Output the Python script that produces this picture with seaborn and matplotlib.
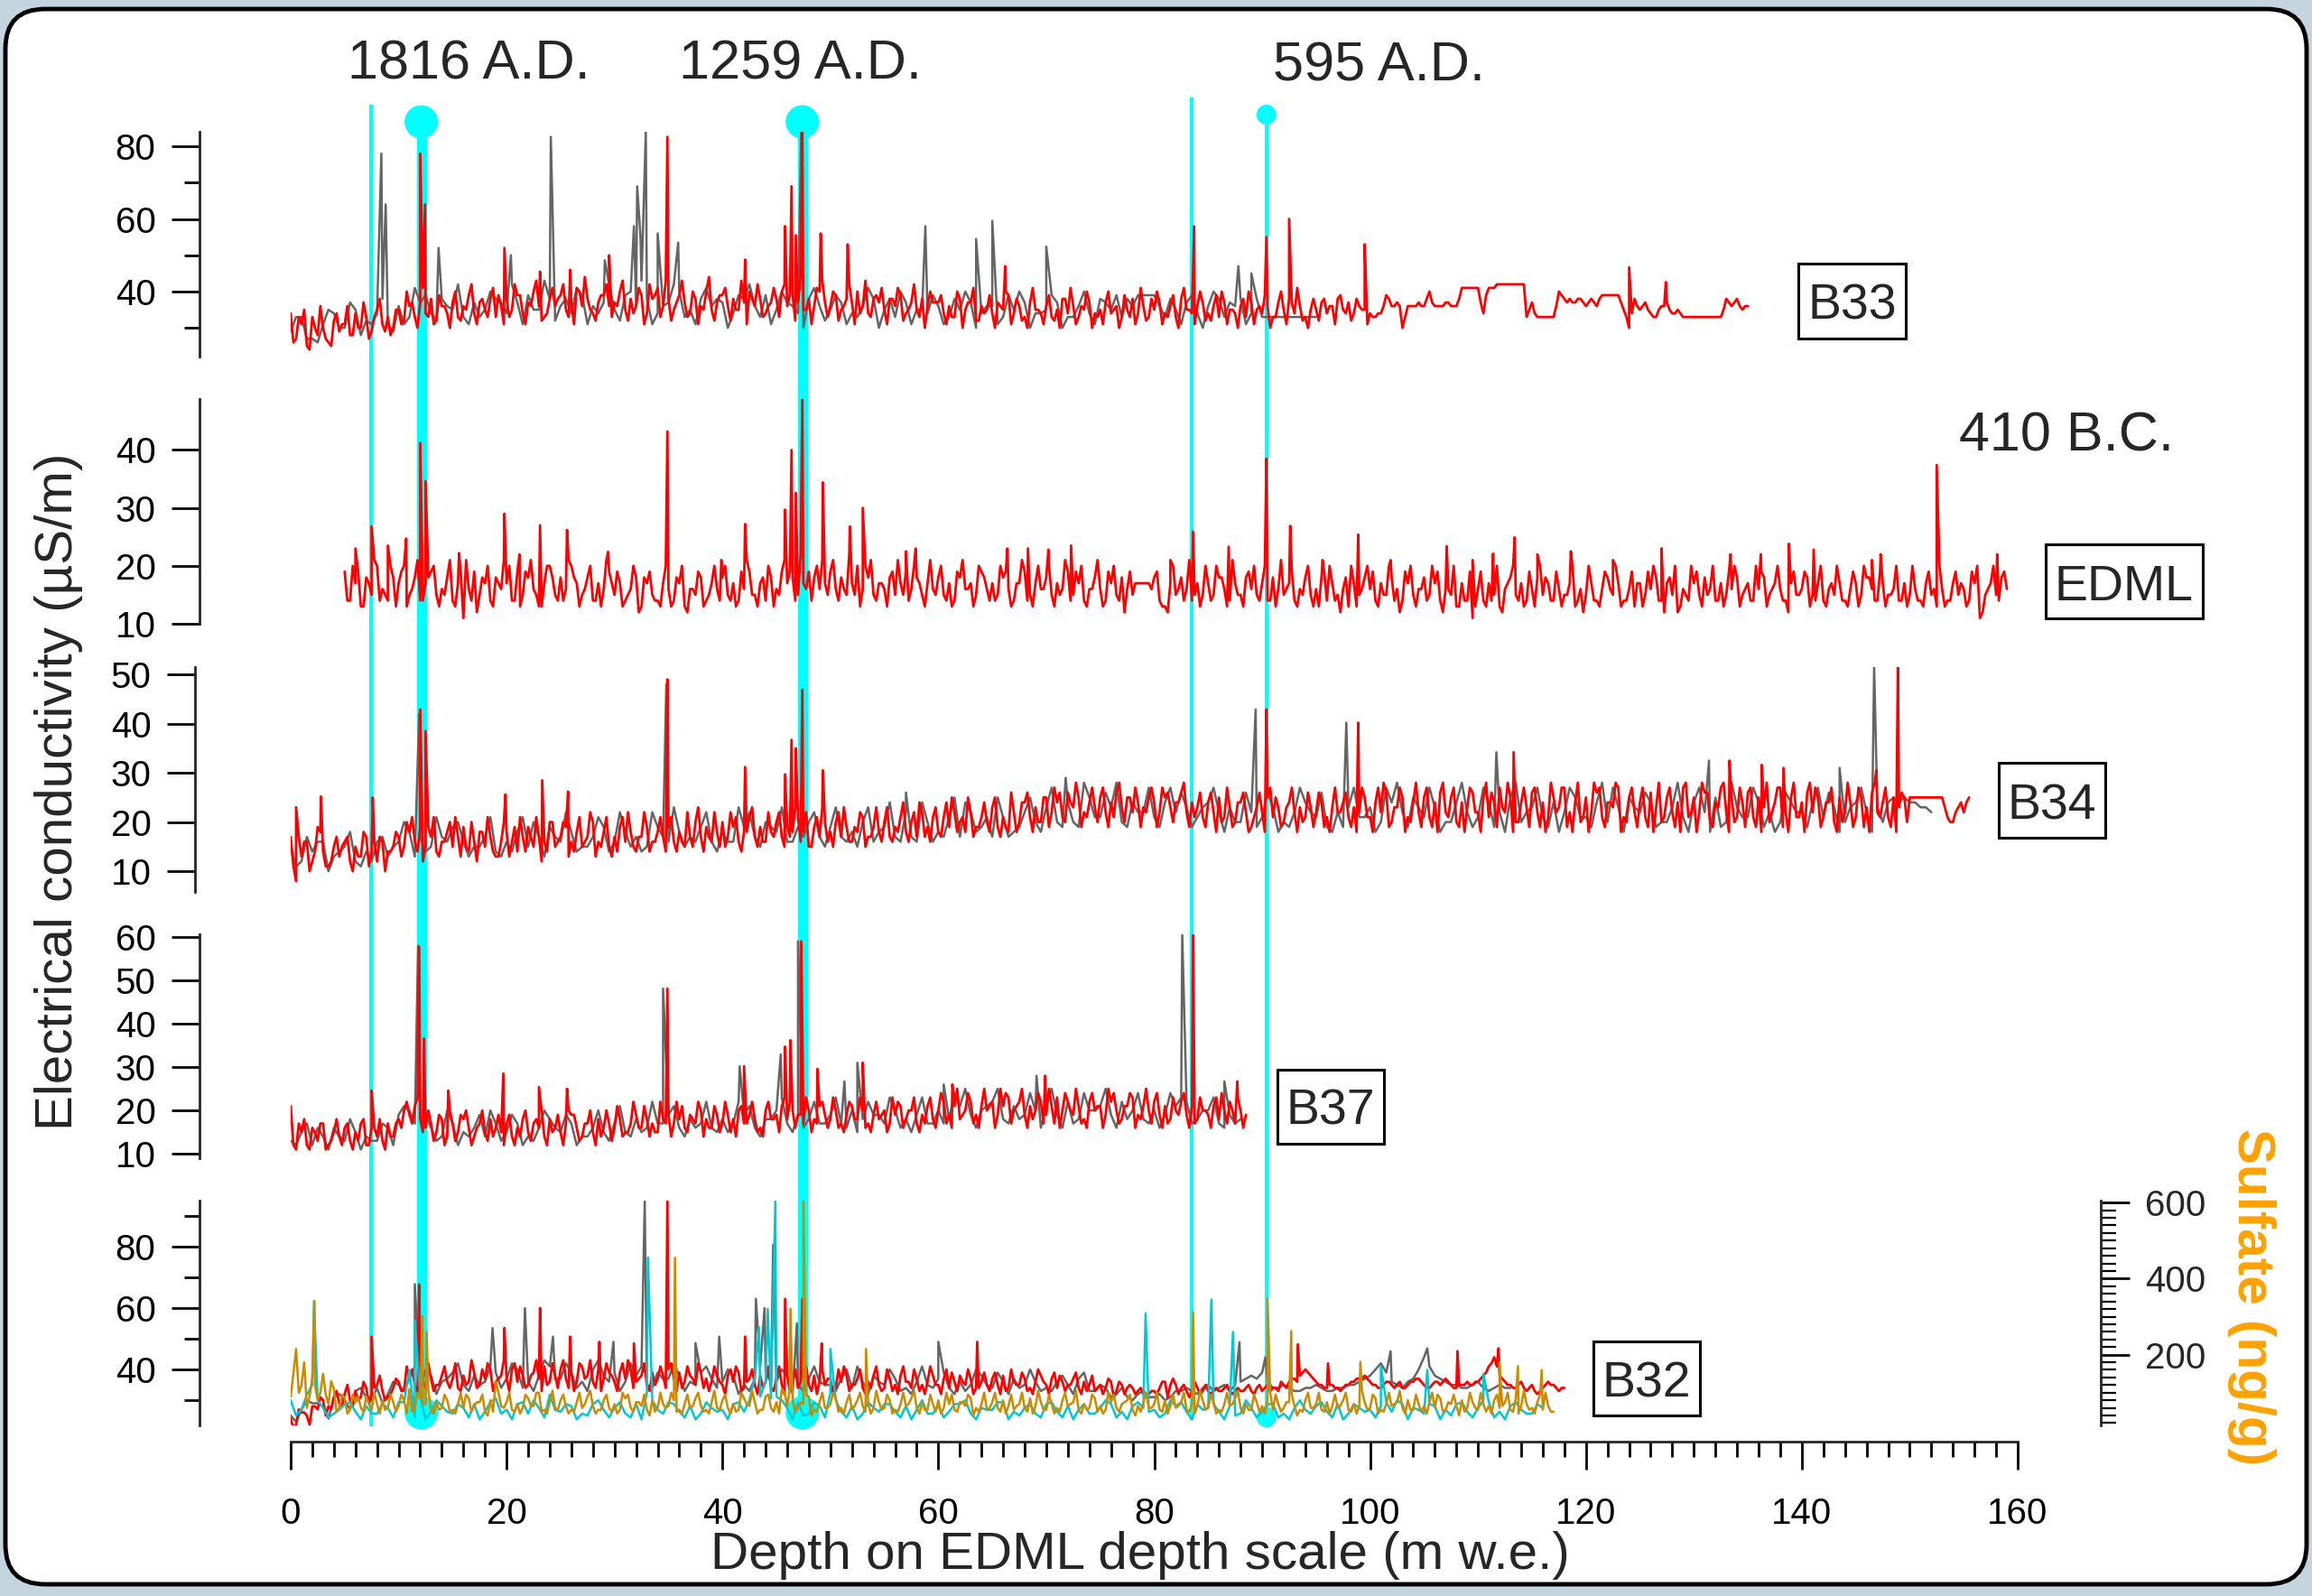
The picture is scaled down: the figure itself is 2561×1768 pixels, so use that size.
import numpy as np
import pandas as pd
import matplotlib
matplotlib.use("Agg")
import matplotlib.pyplot as plt
import seaborn as sns
from matplotlib.patches import FancyBboxPatch, Rectangle
from matplotlib.ticker import MultipleLocator, NullLocator

# ---------------------------------------------------------------- data
# Electrical conductivity (uS/m). Each record: samples on a regular depth grid
# (START, STEP), a second interleaved set of samples half a step later (*_MID),
# and the isolated volcanic peaks (*_SPIKES as (depth, value)).
B33_RED_START, B33_RED_STEP = 0.0, 0.5
B33_RED = [
    34, 27, 31, 25, 33, 28, 30, 26, 32, 29,
    31, 28, 34, 30, 33, 29, 35, 31, 33, 30,
    35, 32, 36, 33, 37, 34, 38, 32, 36, 34,
    37, 33, 36, 39, 34, 37, 35, 38, 33, 36,
    38, 35, 39, 34, 37, 40, 36, 33, 38, 36,
    39, 35, 37, 41, 36, 38, 34, 37, 39, 36,
    37, 40, 35, 38, 36, 39, 34, 38, 41, 36,
    38, 35, 39, 37, 34, 38, 36, 40, 35, 37,
    39, 36, 38, 35, 37, 40, 36, 38, 34, 37,
    38, 40, 36, 39, 37, 35, 38, 36, 40, 37,
    36, 39, 35, 38, 37, 40, 36, 34, 38, 37,
    35, 38, 36, 39, 34, 37, 35, 38, 36, 37,
    37, 34, 36, 33, 38, 35, 37, 32, 36, 35,
    34, 37, 35, 39, 34, 36, 33, 37, 35, 34,
    36, 33, 35, 38, 34, 36, 33, 35, 37, 34,
    35, 37, 34, 36, 33, 35, 38, 34, 36, 33,
    35, 37, 34, 36, 33, 38, 35, 34, 36, 37,
    34, 36, 33, 37, 35, 34, 36, 33, 37, 35,
    34, 36, 33, 37, 35, 38, 34, 36, 33, 35,
    35, 37, 34, 36, 38, 35, 37, 34, 36, 35,
    34, 33, 34, 39, 36, 37, 30, 36, 36, 37,
    36, 40, 36, 36, 37, 36, 36, 41, 41, 41,
    41, 34, 41, 41, 42, 42, 42, 42, 42, 33,
    37, 33, 33, 33, 33, 40, 38, 38, 37, 38,
    36, 38, 36, 39, 39, 39, 39, 35, 30, 38,
    35, 37, 34, 33, 36, 37, 34, 35, 33, 33,
    33, 33, 33, 33, 33, 33, 38, 36, 38, 35,
    36,
]
B33_RED_MID = [
    26, 33, 35, 24, 30, 36, 27, 25, 34, 31,
    36, 28, 30, 37, 27, 33, 38, 29, 28, 35,
    31, 40, 37, 30, 41, 33, 31, 39, 36, 30,
    40, 32, 35, 42, 31, 38, 33, 41, 39, 31,
    33, 42, 39, 31, 36, 43, 32, 34, 41, 38,
    42, 33, 31, 40, 44, 35, 32, 39, 42, 33,
    36, 43, 32, 34, 41, 31, 42, 39, 33, 43,
    32, 37, 43, 33, 40, 31, 35, 44, 32, 39,
    41, 32, 35, 43, 31, 38, 42, 33, 36, 41,
    33, 42, 39, 32, 44, 35, 31, 41, 43, 33,
    40, 32, 36, 42, 31, 34, 43, 33, 39, 41,
    31, 38, 41, 32, 35, 42, 33, 30, 40, 37,
    39, 31, 33, 40, 30, 37, 41, 32, 34, 39,
    30, 36, 40, 31, 38, 32, 30, 41, 35, 31,
    39, 32, 30, 38, 41, 31, 36, 40, 30, 33,
    31, 40, 35, 30, 39, 33, 31, 41, 32, 38,
    40, 31, 33, 39, 30, 41, 35, 31, 40, 32,
    32, 39, 40, 31, 35, 30, 38, 40, 31, 36,
    39, 30, 33, 40, 31, 37, 41, 32, 30, 38,
    32, 38, 36, 31, 39, 34, 32, 38, 35, 31,
    33, 34, 36, 38, 36, 36, 33, 36, 36, 36,
    38, 37, 36, 36, 37, 36, 38, 41, 41, 41,
    37, 39, 41, 42, 42, 42, 42, 42, 42, 35,
    34, 33, 33, 33, 36, 39, 37, 37, 38, 37,
    37, 37, 38, 39, 39, 39, 37, 33, 34, 36,
    36, 35, 33, 35, 36, 35, 34, 34, 33, 33,
    33, 33, 33, 33, 33, 35, 37, 37, 36, 36,
]
B33_RED_SPIKES = [(12.0, 78), (12.45, 64), (19.8, 52), (23.1, 45.5), (25.9, 46),
                  (29.5, 50), (34.9, 82.6), (42.1, 48.8), (45.8, 58), (46.4, 69),
                  (46.8, 55.5), (47.4, 84), (49.1, 56), (51.6, 53), (66.2, 47),
                  (83.7, 58), (90.4, 55), (92.5, 60), (99.5, 53), (124.0, 46.7),
                  (127.4, 42.6)]

B33_GRAY_START, B33_GRAY_STEP = 0.0, 1.0
B33_GRAY = [
    29, 33, 27, 31, 34, 30, 35, 32, 34, 31,
    36, 33, 37, 34, 38, 35, 33, 37, 35, 38,
    34, 37, 39, 35, 38, 36, 34, 39, 36, 37,
    35, 39, 36, 38, 34, 37, 40, 35, 38, 36,
    37, 34, 38, 36, 39, 35, 37, 34, 38, 36,
    35, 37, 34, 36, 38, 35, 33, 37, 35, 34,
    36, 33, 35, 37, 34, 36, 33, 35, 37, 34,
    35, 37, 33, 36, 34, 38, 35, 33, 36, 39,
    39, 33, 35, 37, 34, 36, 38, 37, 38, 34,
    33, 33, 33, 33, 33, 33,
]
B33_GRAY_MID = [
    33, 27, 26, 35, 30, 37, 28, 31, 38, 29,
    31, 41, 39, 32, 36, 42, 31, 33, 40, 37,
    42, 31, 35, 43, 32, 38, 41, 31, 34, 42,
    32, 40, 43, 31, 36, 42, 33, 31, 41, 38,
    30, 39, 42, 33, 31, 40, 36, 30, 41, 32,
    39, 31, 33, 41, 30, 38, 40, 31, 35, 39,
    31, 38, 40, 30, 36, 31, 39, 40, 30, 34,
    39, 30, 33, 40, 31, 37, 39, 38, 39, 39,
    36, 38, 31, 39, 30, 40, 33, 36, 31, 38,
    33, 33, 33, 33, 33,
]
B33_GRAY_SPIKES = [(8.4, 78), (8.8, 64), (13.7, 52), (20.4, 50), (24.1, 82.6),
                   (29.1, 48.6), (31.8, 58), (32.1, 69), (32.4, 55.5), (32.9, 84),
                   (34.0, 56), (35.9, 53.5), (47.3, 84), (58.8, 58), (63.5, 54.5),
                   (65.0, 59.5), (70.0, 52.4), (87.8, 47), (89.0, 45)]

EDML_RED_START, EDML_RED_STEP = 5.0, 0.5
EDML_RED = [
    19, 14, 17, 13, 18, 15, 20, 16, 14, 18,
    17, 20, 15, 18, 14, 17, 19, 15, 16, 18,
    14, 17, 11, 16, 19, 15, 17, 14, 18, 16,
    17, 14, 19, 15, 18, 16, 13, 17, 20, 15,
    18, 16, 20, 17, 15, 18, 14, 17, 16, 19,
    15, 17, 14, 16, 18, 13, 17, 15, 14, 17,
    16, 14, 17, 13, 16, 15, 18, 14, 17, 16,
    18, 15, 17, 14, 16, 19, 15, 17, 14, 18,
    16, 19, 17, 18, 15, 17, 19, 18, 16, 17,
    19, 16, 18, 15, 17, 20, 16, 18, 15, 17,
    16, 18, 15, 17, 19, 16, 18, 15, 17, 16,
    18, 15, 17, 14, 18, 16, 17, 15, 19, 16,
    17, 15, 18, 16, 14, 17, 19, 15, 17, 16,
    18, 15, 17, 16, 19, 15, 17, 14, 16, 18,
    16, 14, 17, 15, 18, 16, 15, 17, 17, 17,
    18, 14, 13, 17, 15, 18, 16, 14, 17, 15,
    17, 15, 18, 16, 14, 17, 15, 18, 16, 15,
    17, 14, 18, 16, 15, 17, 14, 16, 18, 15,
    16, 18, 14, 17, 15, 16, 13, 17, 15, 18,
    16, 14, 17, 15, 18, 16, 14, 17, 15, 16,
    18, 15, 17, 14, 16, 15, 13, 17, 14, 11,
    16, 14, 17, 15, 13, 16, 18, 15, 17, 14,
    16, 18, 15, 17, 14, 16, 15, 17, 13, 16,
    15, 17, 14, 16, 18, 15, 17, 14, 16, 13,
    17, 15, 16, 18, 14, 17, 15, 12, 16, 14,
    17, 15, 18, 16, 14, 17, 15, 16, 18, 15,
    17, 14, 16, 18, 15, 17, 16, 14, 17, 15,
    16, 18, 15, 17, 14, 16, 15, 17, 14, 16,
    17, 15, 18, 16, 14, 17, 15, 16, 14, 17,
    15, 16, 14, 17, 15, 13, 16, 14, 17, 15,
    16, 14, 17, 11, 15, 17, 15, 18, 16,
]
EDML_RED_MID = [
    14, 20, 19, 13, 17, 21, 14, 15, 20, 13,
    19, 13, 16, 21, 14, 18, 20, 13, 15, 21,
    13, 19, 21, 14, 12, 18, 20, 13, 17, 21,
    20, 14, 13, 19, 21, 15, 13, 20, 18, 14,
    14, 21, 18, 13, 16, 20, 14, 13, 21, 17,
    19, 13, 15, 20, 12, 18, 19, 14, 13, 20,
    13, 18, 20, 12, 16, 19, 13, 15, 20, 14,
    20, 14, 13, 19, 21, 15, 13, 18, 20, 13,
    15, 21, 19, 14, 22, 16, 14, 20, 21, 15,
    21, 14, 16, 22, 15, 13, 20, 21, 14, 17,
    13, 19, 21, 15, 14, 20, 17, 13, 21, 15,
    20, 14, 13, 19, 21, 16, 13, 20, 18, 14,
    14, 20, 19, 13, 17, 21, 14, 13, 20, 16,
    20, 13, 15, 21, 14, 19, 20, 13, 16, 21,
    13, 19, 20, 14, 12, 19, 17, 17, 17, 16,
    19, 13, 12, 20, 16, 14, 21, 15, 13, 20,
    14, 20, 18, 13, 21, 15, 13, 19, 20, 14,
    20, 14, 13, 21, 16, 19, 13, 15, 20, 13,
    13, 19, 20, 14, 12, 18, 20, 13, 16, 20,
    19, 13, 15, 20, 14, 12, 19, 20, 13, 16,
    14, 20, 19, 12, 16, 20, 13, 14, 19, 13,
    19, 13, 14, 20, 12, 17, 20, 14, 13, 19,
    13, 20, 18, 14, 19, 13, 15, 20, 14, 12,
    20, 14, 13, 19, 16, 20, 13, 14, 19, 17,
    13, 19, 20, 14, 12, 18, 20, 13, 15, 20,
    19, 13, 15, 20, 14, 13, 19, 20, 13, 16,
    14, 20, 19, 13, 16, 20, 14, 12, 19, 15,
    19, 13, 14, 20, 13, 17, 20, 14, 13, 19,
    13, 20, 18, 14, 19, 13, 15, 20, 14, 13,
    20, 14, 13, 19, 16, 20, 13, 14, 19, 17,
    13, 19, 20, 12, 16, 20, 14, 19,
]
EDML_RED_SPIKES = [(6.0, 23), (7.5, 26.8), (9.0, 23.5), (10.7, 24.7), (12.0, 41.2),
                   (12.5, 34.6), (15.6, 22.2), (19.8, 29), (21.2, 22), (23.1, 27),
                   (25.6, 26.2), (29.4, 22.4), (34.9, 43.2), (39.9, 21), (42.1, 27.2),
                   (45.8, 29.7), (46.4, 40), (46.8, 32.6), (47.4, 48.8), (49.3, 34.4),
                   (51.8, 26.8), (53.0, 30), (57.0, 22.5), (57.9, 23), (66.4, 23),
                   (68.3, 23), (70.2, 22.8), (72.3, 23.5), (81.5, 21), (83.6, 25.9),
                   (86.9, 23.3), (90.4, 38.5), (92.6, 26.9), (95.6, 21), (98.9, 25.4),
                   (101.9, 21), (107.1, 23.4), (109.5, 21), (111.4, 22.1), (113.4, 24.9),
                   (115.5, 22), (118.6, 22.5), (122.5, 21), (127.0, 23), (133.4, 22),
                   (136.2, 22), (138.8, 23.8), (141.1, 22.8), (146.5, 21), (147.3, 22),
                   (152.5, 37.4), (158.1, 22)]

B34_RED_START, B34_RED_STEP = 0.0, 0.5
B34_RED = [
    17, 8, 13, 16, 12, 19, 14, 11, 15, 13,
    16, 12, 15, 13, 17, 14, 12, 16, 14, 15,
    17, 15, 18, 16, 19, 15, 17, 14, 16, 18,
    15, 17, 19, 14, 16, 18, 15, 17, 13, 16,
    18, 16, 14, 17, 19, 15, 17, 16, 20, 15,
    17, 19, 16, 18, 15, 17, 20, 16, 18, 15,
    17, 19, 16, 18, 14, 17, 19, 16, 18, 17,
    19, 16, 18, 15, 17, 20, 17, 19, 16, 18,
    20, 17, 19, 16, 18, 21, 17, 19, 16, 18,
    20, 17, 19, 18, 21, 18, 15, 19, 17, 20,
    18, 20, 17, 19, 16, 18, 21, 17, 19, 18,
    20, 17, 19, 21, 18, 20, 17, 22, 19, 21,
    18, 21, 19, 22, 20, 18, 22, 19, 21, 20,
    23, 19, 21, 18, 22, 20, 24, 21, 23, 20,
    25, 22, 24, 21, 26, 23, 25, 22, 24, 23,
    25, 22, 24, 26, 23, 25, 22, 24, 23, 25,
    24, 22, 25, 23, 24, 26, 22, 24, 23, 21,
    24, 22, 25, 21, 23, 20, 24, 22, 19, 23,
    22, 25, 21, 23, 20, 24, 22, 23, 21, 23,
    22, 24, 21, 23, 22, 24, 21, 23, 22, 25,
    21, 24, 22, 26, 20, 23, 25, 21, 24, 22,
    25, 21, 24, 26, 22, 25, 20, 24, 23, 26,
    22, 25, 21, 24, 27, 22, 25, 20, 24, 23,
    26, 22, 24, 21, 25, 23, 27, 22, 24, 20,
    25, 22, 26, 21, 24, 23, 27, 21, 25, 22,
    24, 21, 26, 23, 20, 25, 22, 24, 27, 21,
    25, 22, 26, 20, 24, 27, 22, 25, 21, 24,
    26, 21, 25, 23, 20, 24, 27, 22, 25, 21,
    24, 26, 22, 25, 21, 24, 20, 25, 22, 24,
    21, 25, 23, 26, 22, 24, 21, 25, 23, 25,
    25, 25, 25, 25, 25, 25, 25, 21, 20, 23,
    22, 25,
]
B34_RED_MID = [
    11, 17, 16, 10, 14, 18, 11, 12, 17, 15,
    17, 10, 13, 18, 11, 16, 17, 10, 14, 18,
    13, 20, 21, 14, 12, 19, 21, 13, 16, 20,
    21, 13, 15, 20, 12, 18, 21, 14, 13, 20,
    13, 19, 21, 14, 17, 21, 12, 14, 20, 16,
    20, 13, 14, 21, 16, 22, 13, 15, 21, 13,
    14, 21, 22, 15, 17, 22, 14, 16, 21, 14,
    21, 14, 16, 22, 15, 23, 14, 17, 22, 15,
    15, 22, 21, 14, 18, 23, 15, 16, 22, 17,
    22, 15, 17, 23, 16, 22, 15, 21, 23, 16,
    15, 22, 23, 16, 19, 22, 15, 17, 23, 16,
    23, 16, 18, 24, 16, 22, 24, 17, 16, 23,
    17, 24, 25, 18, 21, 25, 17, 19, 24, 18,
    25, 17, 19, 26, 18, 24, 26, 18, 20, 25,
    19, 27, 26, 20, 24, 28, 19, 21, 27, 20,
    27, 19, 21, 28, 20, 25, 27, 19, 22, 27,
    19, 27, 26, 20, 24, 28, 19, 21, 26, 19,
    26, 18, 20, 27, 19, 24, 26, 18, 21, 26,
    18, 27, 25, 19, 23, 27, 18, 20, 26, 19,
    26, 19, 18, 27, 22, 26, 19, 18, 27, 21,
    18, 27, 28, 19, 23, 27, 18, 20, 28, 19,
    27, 19, 18, 28, 21, 27, 19, 18, 27, 22,
    18, 28, 26, 19, 23, 28, 18, 20, 27, 19,
    27, 19, 18, 28, 22, 27, 19, 18, 28, 21,
    18, 28, 27, 19, 24, 28, 18, 20, 27, 19,
    27, 19, 18, 28, 21, 27, 19, 18, 28, 22,
    18, 28, 26, 19, 23, 28, 18, 20, 27, 19,
    27, 19, 18, 28, 22, 27, 19, 18, 28, 21,
    18, 28, 27, 19, 24, 27, 18, 20, 28, 19,
    27, 19, 18, 28, 21, 27, 19, 18, 26, 20,
    25, 25, 25, 25, 25, 25, 23, 20, 22, 24,
    24,
]
B34_RED_SPIKES = [(0.5, 23), (2.8, 25.2), (7.6, 25), (12.0, 42.9), (12.5, 38.5),
                  (19.9, 25.6), (23.3, 28.5), (25.7, 26.2), (34.9, 49), (42.1, 31.2),
                  (45.8, 29.7), (46.4, 36.7), (46.8, 35), (47.4, 46.9), (49.3, 30.5),
                  (90.4, 42.9), (98.9, 40.2), (113.3, 34.2), (133.3, 32.5), (136.3, 31.6),
                  (138.3, 31), (146.9, 30.5), (148.9, 51.7)]

B34_GRAY_START, B34_GRAY_STEP = 0.0, 1.0
B34_GRAY = [
    15, 12, 14, 16, 13, 15, 12, 14, 16, 13,
    16, 18, 17, 15, 17, 19, 16, 15, 17, 14,
    16, 18, 15, 17, 19, 16, 18, 15, 17, 19,
    16, 18, 17, 15, 19, 16, 18, 17, 19, 16,
    18, 16, 19, 17, 20, 18, 16, 19, 20, 17,
    19, 17, 18, 20, 16, 19, 17, 22, 16, 20,
    18, 21, 17, 22, 19, 17, 21, 18, 22, 20,
    23, 20, 24, 19, 25, 21, 23, 20, 24, 22,
    21, 24, 22, 23, 21, 24, 22, 23, 20, 22,
    21, 23, 20, 22, 24, 21, 19, 22, 23, 21,
    23, 20, 24, 22, 25, 21, 23, 20, 24, 22,
    21, 24, 22, 25, 20, 23, 21, 24, 22, 25,
    21, 24, 20, 23, 25, 22, 24, 20, 23, 21,
    24, 22, 25, 20, 23, 21, 24, 22, 20, 24,
    22, 24, 21, 23, 20, 24, 22, 23, 24, 24,
    24, 23, 22,
]
B34_GRAY_MID = [
    11, 17, 16, 10, 14, 18, 11, 12, 17, 15,
    20, 13, 14, 21, 16, 20, 13, 15, 21, 13,
    14, 21, 20, 13, 17, 22, 14, 15, 21, 14,
    22, 15, 14, 22, 17, 23, 15, 16, 22, 14,
    16, 23, 22, 15, 19, 23, 16, 17, 22, 15,
    23, 16, 15, 23, 18, 24, 16, 17, 24, 16,
    17, 25, 24, 18, 21, 25, 17, 19, 25, 18,
    27, 19, 20, 28, 21, 26, 28, 19, 22, 27,
    19, 27, 26, 19, 23, 27, 18, 20, 26, 19,
    26, 18, 19, 27, 22, 26, 18, 19, 27, 21,
    18, 27, 28, 19, 23, 27, 18, 20, 28, 19,
    27, 19, 18, 28, 22, 27, 19, 18, 27, 21,
    19, 28, 27, 18, 23, 26, 19, 20, 28, 18,
    27, 18, 19, 28, 21, 27, 19, 18, 26, 22,
    19, 27, 26, 18, 23, 27, 18, 20, 25, 25,
    24, 23,
]
B34_GRAY_SPIKES = [(11.9, 42), (34.8, 48), (57.0, 26), (71.8, 29), (89.4, 42.9),
                   (97.8, 40.2), (111.7, 34.2), (131.4, 32.5), (143.5, 31), (146.7, 51.7)]

B37_RED_START, B37_RED_STEP = 0.0, 0.5
B37_RED = [
    21, 11, 15, 12, 16, 13, 17, 12, 15, 14,
    16, 13, 15, 17, 12, 16, 14, 13, 17, 14,
    18, 20, 19, 21, 18, 16, 17, 15, 18, 14,
    17, 15, 18, 16, 14, 17, 15, 18, 16, 15,
    17, 14, 16, 18, 15, 17, 16, 14, 18, 16,
    15, 17, 19, 16, 14, 17, 15, 18, 16, 17,
    16, 18, 15, 17, 19, 16, 18, 17, 15, 18,
    19, 17, 18, 16, 19, 17, 20, 18, 16, 19,
    17, 19, 18, 20, 17, 19, 18, 16, 20, 18,
    19, 21, 18, 20, 19, 17, 20, 18, 21, 19,
    18, 20, 17, 19, 21, 18, 20, 17, 19, 18,
    20, 17, 19, 21, 18, 20, 17, 19, 21, 18,
    20, 22, 19, 21, 18, 20, 22, 19, 21, 20,
    22, 19, 21, 23, 20, 22, 19, 21, 20, 22,
    19, 21, 23, 20, 22, 19, 21, 18, 22, 20,
    21, 19, 22, 20, 18, 21, 23, 19, 21, 20,
    22, 19, 21, 18, 20, 22, 19, 21, 18, 20,
    19, 21, 18, 20, 22, 17, 20, 19,
]
B37_RED_MID = [
    12, 17, 18, 11, 15, 17, 11, 13, 18, 12,
    17, 11, 13, 18, 12, 16, 18, 11, 14, 17,
    16, 22, 17, 23, 15, 20, 13, 19, 12, 20,
    13, 19, 20, 12, 16, 20, 13, 14, 19, 12,
    19, 12, 14, 20, 13, 18, 20, 12, 15, 19,
    12, 20, 19, 13, 17, 20, 12, 14, 20, 13,
    21, 14, 15, 22, 16, 21, 14, 15, 22, 17,
    14, 22, 21, 15, 18, 22, 14, 16, 21, 15,
    22, 15, 14, 21, 17, 22, 15, 14, 22, 18,
    15, 23, 22, 16, 19, 23, 15, 17, 22, 16,
    23, 16, 15, 22, 18, 23, 16, 15, 22, 19,
    15, 23, 22, 16, 20, 23, 15, 17, 23, 16,
    24, 17, 16, 25, 19, 24, 17, 16, 25, 21,
    16, 25, 24, 17, 21, 25, 16, 18, 24, 17,
    25, 17, 16, 24, 20, 25, 17, 16, 24, 21,
    16, 25, 24, 17, 21, 24, 16, 18, 25, 17,
    24, 16, 17, 23, 19, 24, 16, 17, 23, 20,
    16, 23, 24, 17, 20, 23, 16,
]
B37_RED_SPIKES = [(7.5, 24.6), (11.9, 57.7), (12.35, 36.6), (14.6, 24.6), (19.7, 28.5),
                  (23.0, 25.4), (25.6, 25), (34.9, 48.1), (42.0, 30.2), (45.8, 34.7),
                  (46.3, 36.2), (47.3, 59), (48.8, 29.6), (53.0, 31), (61.3, 26),
                  (69.9, 28), (83.6, 60.6), (87.7, 26.7)]

B37_GRAY_START, B37_GRAY_STEP = 0.0, 1.0
B37_GRAY = [
    13, 15, 12, 14, 16, 13, 15, 14, 13, 16,
    19, 20, 18, 16, 14, 17, 15, 16, 14, 17,
    15, 17, 14, 16, 18, 15, 17, 14, 16, 15,
    17, 15, 18, 16, 17, 19, 16, 18, 17, 16,
    18, 17, 19, 16, 18, 20, 17, 19, 18, 17,
    19, 17, 20, 18, 19, 17, 20, 18, 19, 17,
    20, 18, 21, 19, 20, 22, 18, 21, 19, 20,
    21, 19, 22, 18, 20, 21, 19, 22, 20, 18,
    20, 19, 21, 22, 18, 20, 17, 19, 18,
]
B37_GRAY_MID = [
    12, 17, 16, 11, 14, 18, 11, 13, 17, 12,
    21, 17, 19, 13, 20, 12, 14, 19, 20, 13,
    19, 12, 13, 20, 16, 19, 12, 14, 20, 13,
    21, 14, 15, 22, 17, 21, 14, 16, 22, 15,
    15, 22, 21, 14, 18, 23, 15, 16, 22, 17,
    23, 16, 15, 22, 19, 23, 16, 15, 23, 17,
    17, 24, 25, 16, 21, 25, 17, 18, 24, 16,
    25, 16, 17, 24, 20, 25, 16, 18, 24, 17,
    16, 24, 23, 17, 20, 23, 16, 17,
]
B37_GRAY_SPIKES = [(11.8, 58), (34.5, 48.1), (41.6, 30.2), (45.4, 32.9), (47.0, 59),
                   (51.3, 26.7), (52.5, 31), (60.5, 26), (69.1, 28), (82.6, 60.6),
                   (86.5, 26.7)]

B32_RED_START, B32_RED_STEP = 0.0, 0.5
B32_RED = [
    24, 22, 26, 25, 28, 27, 30, 28, 31, 29,
    32, 30, 33, 31, 34, 32, 35, 33, 31, 34,
    36, 33, 37, 35, 38, 34, 37, 35, 38, 36,
    37, 34, 38, 36, 39, 35, 37, 40, 36, 38,
    37, 40, 36, 38, 35, 39, 37, 41, 36, 38,
    40, 37, 39, 36, 41, 38, 36, 40, 37, 39,
    36, 39, 37, 40, 36, 38, 35, 39, 37, 38,
    40, 37, 39, 36, 38, 35, 39, 37, 36, 38,
    35, 38, 36, 39, 34, 37, 35, 38, 36, 34,
    37, 35, 38, 36, 34, 37, 35, 38, 36, 35,
    37, 34, 36, 38, 35, 37, 34, 36, 38, 35,
    34, 37, 35, 38, 36, 34, 37, 35, 36, 38,
    35, 37, 34, 36, 38, 35, 37, 34, 36, 35,
    37, 35, 38, 34, 36, 35, 37, 34, 36, 38,
    35, 37, 34, 36, 35, 37, 34, 36, 35, 33,
    35, 34, 36, 33, 35, 34, 34, 33, 32, 32,
    33, 34, 36, 35, 35, 34, 33, 33, 34, 33,
    33, 33, 33, 34, 33, 33, 33, 34, 33, 34,
    33, 35, 34, 33, 35, 36, 37, 38, 40, 38,
    36, 35, 34, 35, 34, 34, 35, 36, 37, 38,
    36, 35, 34, 36, 35, 35, 34, 35, 36, 37,
    35, 34, 36, 35, 37, 35, 34, 35, 36, 35,
    36, 38, 41, 44, 38, 36, 35, 34, 36, 33,
    35, 32, 34, 36, 35, 33, 34,
]
B32_RED_MID = [
    21, 27, 26, 22, 28, 31, 25, 27, 33, 28,
    35, 28, 30, 36, 29, 34, 38, 30, 32, 37,
    33, 41, 40, 32, 36, 42, 33, 35, 41, 34,
    42, 33, 35, 43, 34, 40, 42, 33, 37, 43,
    33, 42, 41, 34, 38, 43, 33, 35, 42, 34,
    43, 34, 33, 42, 37, 43, 34, 33, 42, 38,
    33, 42, 43, 34, 37, 42, 33, 35, 41, 34,
    42, 33, 34, 41, 37, 42, 34, 33, 41, 36,
    32, 40, 41, 33, 36, 40, 32, 34, 41, 33,
    41, 32, 33, 40, 36, 41, 33, 32, 40, 37,
    32, 40, 41, 33, 35, 40, 32, 34, 41, 33,
    40, 33, 32, 41, 36, 40, 33, 32, 41, 35,
    32, 40, 39, 33, 36, 40, 32, 34, 39, 33,
    39, 32, 33, 40, 35, 39, 33, 32, 40, 36,
    32, 39, 38, 33, 35, 39, 32, 33, 38, 34,
    32, 37, 31, 36, 32, 35, 32, 34, 31, 33,
    32, 36, 31, 37, 32, 35, 31, 36, 32, 35,
    32, 34, 33, 35, 32, 34, 33, 35, 32, 35,
    34, 33, 34, 36, 34, 37, 36, 39, 39, 37,
    35, 34, 35, 34, 33, 35, 36, 37, 37, 37,
    35, 34, 35, 36, 34, 36, 34, 36, 37, 36,
    34, 35, 36, 36, 36, 34, 35, 35, 35, 36,
    37, 39, 42, 41, 37, 35, 34, 35, 34, 34,
    33, 33, 35, 35, 34, 34,
]
B32_RED_SPIKES = [(7.5, 50.7), (11.9, 67.7), (19.8, 53.5), (23.1, 60), (25.9, 50.7),
                  (28.6, 49), (31.8, 48.5), (34.9, 94.8), (42.1, 50.7), (45.8, 63),
                  (47.4, 63), (49.2, 48.5), (63.6, 49), (93.3, 48.2), (96.1, 42),
                  (108.1, 46), (111.9, 46.9)]

B32_GRAY_START, B32_GRAY_STEP = 0.0, 1.0
B32_GRAY = [
    25, 27, 29, 28, 31, 30, 33, 31, 34, 32,
    35, 37, 34, 38, 36, 39, 35, 38, 36, 39,
    37, 40, 36, 38, 41, 37, 39, 36, 40, 38,
    39, 36, 38, 35, 39, 37, 38, 36, 39, 37,
    36, 38, 35, 37, 39, 36, 38, 35, 37, 36,
    35, 37, 34, 36, 38, 35, 37, 34, 36, 35,
    37, 34, 36, 35, 38, 34, 36, 37, 35, 36,
    34, 36, 35, 37, 33, 35, 31, 34, 30, 33,
    31, 30, 33, 34, 32, 35, 34, 33, 36, 38,
    39, 34, 35, 33, 34, 35, 33, 34, 35, 36,
    38, 42, 36, 34, 37, 44, 38, 36, 35, 34,
    36, 33, 35, 34,
]
B32_GRAY_MID = [
    23, 30, 29, 24, 32, 27, 34, 30, 29, 36,
    33, 41, 40, 32, 37, 42, 33, 35, 41, 34,
    42, 34, 33, 43, 37, 42, 34, 33, 43, 36,
    33, 42, 41, 34, 37, 42, 33, 35, 41, 34,
    40, 32, 33, 41, 36, 40, 32, 33, 41, 35,
    33, 40, 41, 32, 36, 40, 33, 32, 41, 34,
    39, 32, 33, 40, 35, 39, 32, 34, 40, 33,
    33, 38, 32, 39, 33, 34, 32, 31, 32, 31,
    32, 31, 33, 33, 34, 33, 35, 35, 37, 37,
    36, 34, 34, 33, 34, 34, 33, 34, 35, 37,
    40, 39, 35, 36, 40, 41, 37, 35, 34, 35,
    34, 34, 34,
]
B32_GRAY_SPIKES = [(11.5, 67.8), (18.7, 53.5), (21.7, 60), (24.3, 50.7), (29.9, 49),
                   (32.8, 94.8), (37.5, 48.6), (39.7, 50.7), (43.1, 63), (43.9, 60),
                   (44.7, 80.6), (46.9, 55), (60.0, 49), (87.9, 48.9), (90.3, 44),
                   (101.9, 45.9), (105.3, 46.9)]

# Sulfate (ng/g) in B32, two records
SULF_CYAN_START, SULF_CYAN_STEP = 0.0, 1.0
SULF_CYAN = [
    80, 55, 120, 60, 45, 70, 50, 65, 45, 60,
    75, 160, 90, 50, 65, 45, 60, 70, 50, 85,
    55, 70, 45, 60, 95, 50, 65, 45, 70, 55,
    60, 45, 70, 100, 55, 75, 50, 65, 45, 60,
    55, 70, 50, 140, 130, 90, 60, 75, 45, 65,
    100, 50, 65, 45, 60, 70, 50, 65, 55, 45,
    65, 50, 70, 45, 60, 55, 75, 50, 60, 45,
    70, 50, 65, 55, 45, 60, 70, 50, 65, 60,
    55, 45, 65, 50, 70, 60, 50, 65, 45, 60,
    50, 70, 45, 60, 55, 65, 50, 70, 45, 60,
    55, 65, 50, 70, 60, 45, 65, 55, 70, 50,
    60, 75, 50, 65, 55, 45, 60,
]
SULF_CYAN_MID = [
    40, 95, 80, 35, 55, 75, 30, 45, 70, 35,
    75, 35, 30, 80, 50, 70, 35, 30, 75, 45,
    30, 75, 80, 35, 55, 70, 30, 40, 80, 35,
    75, 35, 30, 80, 45, 70, 35, 30, 75, 50,
    30, 75, 80, 90, 85, 80, 30, 40, 75, 35,
    80, 35, 30, 75, 50, 70, 35, 30, 80, 45,
    35, 70, 80, 30, 55, 75, 30, 40, 70, 35,
    75, 35, 30, 70, 45, 80, 35, 30, 75, 50,
    35, 80, 75, 30, 55, 70, 30, 40, 80, 35,
    70, 35, 30, 80, 45, 75, 35, 30, 70, 50,
    35, 75, 80, 30, 55, 70, 30, 40, 75, 35,
    80, 35, 30, 75, 45, 70,
]
SULF_CYAN_SPIKES = [(2.16, 341), (11.5, 290), (33.1, 455), (43.4, 272), (44.2, 320),
                    (44.9, 603), (50.0, 215), (79.2, 308), (85.3, 345), (87.3, 260),
                    (101.0, 170), (105.3, 160), (110.5, 150)]

SULF_ORANGE_START, SULF_ORANGE_STEP = 0.0, 0.5
SULF_ORANGE = [
    90, 215, 120, 60, 140, 80, 150, 70, 110, 60,
    85, 55, 75, 60, 90, 55, 70, 80, 60, 75,
    65, 80, 110, 60, 85, 70, 55, 75, 60, 80,
    55, 70, 60, 85, 65, 75, 50, 80, 130, 65,
    75, 55, 70, 60, 85, 65, 100, 55, 75, 60,
    80, 65, 55, 75, 60, 90, 65, 55, 80, 60,
    70, 55, 85, 60, 75, 65, 55, 80, 60, 70,
    65, 80, 55, 70, 60, 85, 65, 55, 75, 60,
    80, 60, 70, 55, 85, 65, 75, 55, 90, 60,
    75, 110, 65, 80, 60, 70, 90, 55, 75, 60,
    70, 85, 60, 75, 55, 80, 65, 70, 60, 75,
    60, 80, 55, 70, 65, 85, 60, 75, 55, 70,
    80, 60, 70, 55, 75, 65, 85, 60, 70, 55,
    75, 60, 80, 65, 55, 70, 60, 85, 65, 75,
    55, 70, 60, 80, 65, 75, 55, 70, 60, 85,
    65, 55, 75, 60, 70, 80, 55, 65, 75, 60,
    70, 55, 80, 65, 60, 75, 55, 70, 65, 80,
    60, 75, 55, 70, 65, 85, 60, 70, 55, 75,
    65, 80, 55, 70, 60, 75, 65, 55, 80, 60,
    70, 55, 75, 65, 60, 80, 55, 70, 65, 75,
    60, 85, 55, 70, 65, 75, 60, 80, 55, 70,
    65, 75, 60, 85, 55, 70, 65, 80, 60, 75,
    55, 70, 65, 80, 60, 75, 55, 85, 65, 70,
    60, 75, 55, 65, 50,
]
SULF_ORANGE_MID = [
    150, 100, 180, 90, 120, 100, 95, 130, 50, 95,
    45, 95, 90, 50, 70, 100, 45, 55, 95, 50,
    95, 45, 50, 100, 70, 105, 45, 55, 95, 50,
    45, 100, 95, 50, 75, 95, 40, 50, 100, 60,
    100, 50, 45, 95, 65, 100, 50, 45, 105, 55,
    95, 45, 50, 100, 70, 105, 45, 55, 95, 50,
    45, 100, 95, 50, 75, 95, 40, 50, 100, 60,
    100, 50, 45, 95, 65, 100, 50, 45, 105, 55,
    95, 45, 50, 100, 70, 105, 45, 55, 95, 50,
    45, 100, 110, 50, 75, 95, 40, 50, 100, 60,
    100, 50, 45, 95, 65, 100, 50, 45, 105, 55,
    95, 45, 50, 100, 70, 105, 45, 55, 95, 50,
    45, 100, 95, 50, 75, 95, 40, 50, 100, 60,
    100, 50, 45, 95, 65, 100, 50, 45, 105, 55,
    95, 45, 50, 100, 70, 105, 45, 55, 95, 50,
    45, 100, 95, 50, 75, 95, 40, 50, 100, 60,
    100, 50, 45, 95, 65, 100, 50, 45, 105, 55,
    95, 45, 50, 100, 70, 105, 45, 55, 95, 50,
    45, 100, 95, 50, 75, 95, 40, 50, 100, 60,
    100, 50, 45, 95, 65, 100, 50, 45, 105, 55,
    95, 45, 50, 100, 70, 105, 45, 55, 95, 50,
    45, 100, 95, 50, 75, 95, 40, 50, 100, 60,
    100, 50, 45, 95, 65, 100, 50, 45, 105, 55,
    45, 95, 100, 50,
]
SULF_ORANGE_SPIKES = [(2.2, 341), (12.2, 302), (12.6, 260), (35.6, 455), (46.3, 321),
                      (47.5, 603), (53.3, 215), (83.6, 312), (90.5, 348), (92.7, 262),
                      (99.1, 181), (112.0, 180), (113.7, 170), (115.9, 160)]

# Volcanic reference horizons
EVENT_DEPTHS = [7.45, 12.1, 47.4, 83.5, 90.4]
EVENT_LABELS = ["1816 A.D.", "1259 A.D.", "595 A.D.", "410 B.C."]
CORE_NAMES = ["B33", "EDML", "B34", "B37", "B32"]
X_TICKS = [0, 20, 40, 60, 80, 100, 120, 140, 160]

# ---------------------------------------------------------------- style
RED, GRAY, CYAN_EV, CYAN_D, ORANGE_D = "#ff0000", "#656565", "#00ffff", "#00c8d2", "#cc8a00"
SULF_LABEL = "#ffa200"
LW_MAIN, LW_SEC = 2.0, 1.8

sns.set_theme(style="ticks")
plt.rcParams["font.family"] = ["Liberation Sans", "DejaVu Sans"]
plt.rcParams["axes.linewidth"] = 2.0

W, H, DPI = 2561, 1768, 100
fig = plt.figure(figsize=(W / DPI, H / DPI), dpi=DPI)
fig.patch.set_facecolor("#c5d5e0")

def fx(px):
    return px / W

def fy(py):
    return 1.0 - py / H

PT = 72.0 / DPI  # points per pixel

# rounded white frame
frame = FancyBboxPatch((0.06, 0.13), 25.49, 17.45,
                       boxstyle="round,pad=0,rounding_size=0.44",
                       transform=fig.dpi_scale_trans, fc="white", ec="black",
                       lw=3.5, zorder=-2)
fig.add_artist(frame)

X0, X1 = 322, 2235

def series_frame(start, step, vals, mid, spikes):
    d = [start + step * np.arange(len(vals)),
         start + step / 2 + step * np.arange(len(mid))]
    v = [np.asarray(vals, float), np.asarray(mid, float)]
    if spikes:
        sd, sv = zip(*spikes)
        d.append(np.asarray(sd, float))
        v.append(np.asarray(sv, float))
    d = np.concatenate(d)
    v = np.concatenate(v)
    order = np.argsort(d, kind="stable")
    return pd.DataFrame({"depth": d[order], "value": v[order]})

panel_layout = {
    "B33":  dict(top=146, bottom=395, ylim=(22.1, 84.0), major=[40, 60, 80], minor=10, spine=101.5),
    "EDML": dict(top=442, bottom=691, ylim=(10.0, 48.8), major=[10, 20, 30, 40], minor=None, spine=101.5),
    "B34":  dict(top=739, bottom=987.5, ylim=(5.9, 51.5), major=[10, 20, 30, 40, 50], minor=None, spine=106.4),
    "B37":  dict(top=1035, bottom=1283, ylim=(9.0, 60.6), major=[10, 20, 30, 40, 50, 60], minor=None, spine=101.5),
    "B32":  dict(top=1330, bottom=1579, ylim=(21.8, 95.0), major=[40, 60, 80], minor=10, spine=101.5),
}

panel_series = {
    "B33": [(B33_GRAY_START, B33_GRAY_STEP, B33_GRAY, B33_GRAY_MID, B33_GRAY_SPIKES, GRAY, LW_SEC),
            (B33_RED_START, B33_RED_STEP, B33_RED, B33_RED_MID, B33_RED_SPIKES, RED, LW_MAIN)],
    "EDML": [(EDML_RED_START, EDML_RED_STEP, EDML_RED, EDML_RED_MID, EDML_RED_SPIKES, RED, LW_MAIN)],
    "B34": [(B34_GRAY_START, B34_GRAY_STEP, B34_GRAY, B34_GRAY_MID, B34_GRAY_SPIKES, GRAY, LW_SEC),
            (B34_RED_START, B34_RED_STEP, B34_RED, B34_RED_MID, B34_RED_SPIKES, RED, LW_MAIN)],
    "B37": [(B37_GRAY_START, B37_GRAY_STEP, B37_GRAY, B37_GRAY_MID, B37_GRAY_SPIKES, GRAY, LW_SEC),
            (B37_RED_START, B37_RED_STEP, B37_RED, B37_RED_MID, B37_RED_SPIKES, RED, LW_MAIN)],
    "B32": [(B32_GRAY_START, B32_GRAY_STEP, B32_GRAY, B32_GRAY_MID, B32_GRAY_SPIKES, GRAY, LW_SEC),
            (B32_RED_START, B32_RED_STEP, B32_RED, B32_RED_MID, B32_RED_SPIKES, RED, LW_MAIN)],
}

# overlay axes for the event horizons (x in depth, y in figure pixels)
ax_ev = fig.add_axes([fx(X0), 0, (X1 - X0) / W, 1])
ax_ev.set_xlim(0, 160)
ax_ev.set_ylim(H, 0)
ax_ev.axis("off")
ax_ev.set_zorder(-1)
ev_style = [  # (line width px, top px, bottom px, dot diameter px)
    (4, 116, 1580, 0),
    (11, 135, 1565, 37),
    (11, 135, 1565, 37),
    (4, 108, 1573, 0),
    (4, 127, 1570, 22),
]
for dep, (lw, t, b, dot) in zip(EVENT_DEPTHS, ev_style):
    ax_ev.plot([dep, dep], [t, b], color=CYAN_EV, lw=lw * PT, solid_capstyle="butt")
    if dot:
        ax_ev.scatter([dep, dep], [t, b], s=(dot * PT) ** 2, color=CYAN_EV,
                      edgecolors="none")

axes = {}
for name in CORE_NAMES:
    L = panel_layout[name]
    ax = fig.add_axes([fx(X0), fy(L["bottom"]), (X1 - X0) / W, (L["bottom"] - L["top"]) / H])
    ax.set_zorder(1)
    ax.set_facecolor("none")
    for (st, sp, vals, mid, spikes, col, lw) in panel_series[name]:
        df = series_frame(st, sp, vals, mid, spikes)
        sns.lineplot(data=df, x="depth", y="value", ax=ax, color=col, linewidth=lw,
                     estimator=None, sort=False, legend=False)
    ax.set_xlim(0, 160)
    ax.set_ylim(*L["ylim"])
    ax.set_xlabel("")
    ax.set_ylabel("")
    for s in ["top", "right", "bottom"]:
        ax.spines[s].set_visible(False)
    ax.spines["left"].set_position(("outward", L["spine"] * PT))
    ax.spines["left"].set_linewidth(2.0)
    ax.set_yticks(L["major"])
    ax.set_yticklabels([str(v) for v in L["major"]])
    if L["minor"]:
        ax.yaxis.set_minor_locator(MultipleLocator(L["minor"]))
    else:
        ax.yaxis.set_minor_locator(NullLocator())
    ax.tick_params(axis="y", which="major", direction="out", length=31 * PT, width=2.0,
                   labelsize=29, pad=17 * PT, color="black", labelcolor="black")
    ax.tick_params(axis="y", which="minor", direction="out", length=17 * PT, width=2.0,
                   color="black")
    ax.set_xticks([])
    ax.xaxis.set_minor_locator(NullLocator())
    axes[name] = ax

# bottom depth axis on B32
axb = axes["B32"]
axb.spines["bottom"].set_visible(True)
axb.spines["bottom"].set_linewidth(2.0)
axb.spines["bottom"].set_position(("outward", 18 * PT))
axb.set_xticks(X_TICKS)
axb.set_xticklabels([str(v) for v in X_TICKS])
axb.xaxis.set_minor_locator(MultipleLocator(2))
axb.tick_params(axis="x", which="major", direction="out", length=31 * PT, width=2.0,
                labelsize=29, pad=30 * PT, color="black", labelcolor="black")
axb.tick_params(axis="x", which="minor", direction="out", length=17 * PT, width=2.0,
                color="black")

# sulfate twin axis
axs = axb.twinx()
axs.set_zorder(2)
axs.set_facecolor("none")
for col, (st, sp, vals, mid, spikes) in [
        (CYAN_D, (SULF_CYAN_START, SULF_CYAN_STEP, SULF_CYAN, SULF_CYAN_MID, SULF_CYAN_SPIKES)),
        (ORANGE_D, (SULF_ORANGE_START, SULF_ORANGE_STEP, SULF_ORANGE, SULF_ORANGE_MID,
                    SULF_ORANGE_SPIKES))]:
    df = series_frame(st, sp, vals, mid, spikes)
    sns.lineplot(data=df, x="depth", y="value", ax=axs, color=col, linewidth=LW_SEC,
                 estimator=None, sort=False, legend=False)
axs.set_xlim(0, 160)
axs.set_ylim(14, 605)
axs.set_xlabel("")
axs.set_ylabel("")
for s in ["top", "left", "bottom"]:
    axs.spines[s].set_visible(False)
axs.spines["right"].set_position(("outward", 92 * PT))
axs.spines["right"].set_linewidth(2.0)
axs.set_yticks([200, 400, 600])
axs.set_yticklabels(["200", "400", "600"])
axs.yaxis.set_minor_locator(MultipleLocator(20))
axs.tick_params(axis="y", which="major", direction="out", length=32 * PT, width=2.0,
                labelsize=29, pad=17 * PT, right=True, labelright=True, color="black")
axs.tick_params(axis="y", which="minor", direction="out", length=17 * PT, width=1.6,
                right=True, color="black")

# axis titles
fig.text(fx(65), fy(877), "Electrical conductivity (µS/m)", rotation=90,
         ha="center", va="center", fontsize=42)
fig.text(fx(1263), fy(1723), "Depth on EDML depth scale (m w.e.)",
         ha="center", va="center", fontsize=42)
fig.text(fx(2494), fy(1437), "Sulfate (ng/g)", rotation=-90, ha="center", va="center",
         fontsize=42, fontweight="bold", color=SULF_LABEL)

# event labels
for lab, (cx, by) in zip(EVENT_LABELS, [(519, 88), (887, 88), (1527, 90), (2289, 500)]):
    fig.text(fx(cx), fy(by), lab, ha="center", va="baseline", fontsize=44)

# core name boxes
box_pos = {"B33": (1992, 292, 2111, 375, 353), "EDML": (2266, 603, 2440, 685, 665),
           "B34": (2214, 845, 2332, 928, 908), "B37": (1415, 1185, 1533, 1267, 1246),
           "B32": (1765, 1486, 1883, 1568, 1548)}
for name in CORE_NAMES:
    x0, y0, x1, y1, base = box_pos[name]
    fig.add_artist(Rectangle((fx(x0), fy(y1)), (x1 - x0) / W, (y1 - y0) / H,
                             transform=fig.transFigure, fill=False, ec="black", lw=2.2))
    fig.text(fx((x0 + x1) / 2), fy(base), name, ha="center", va="baseline", fontsize=40)

fig.savefig("out.png", dpi=DPI, facecolor=fig.get_facecolor())
